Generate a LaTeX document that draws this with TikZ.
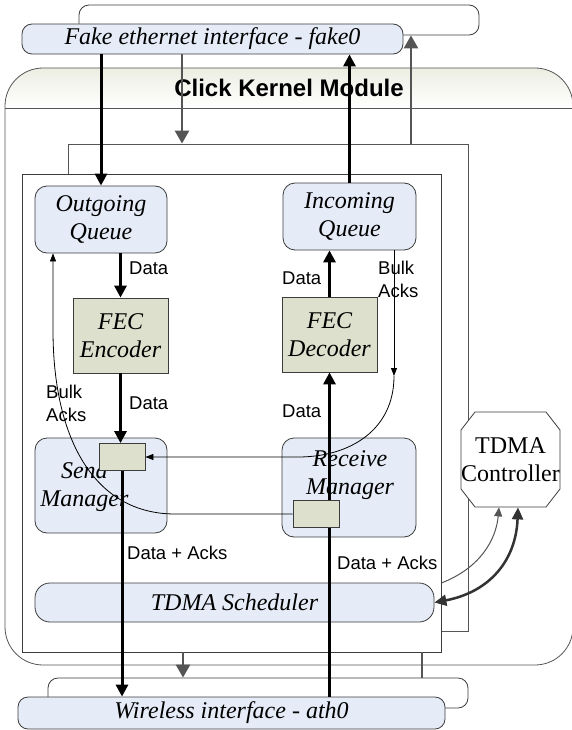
\documentclass[tikz,border=0pt]{standalone}
\usepackage{fontspec}
\setmainfont{Liberation Serif}
\setsansfont{Liberation Sans}
\usetikzlibrary{arrows.meta}

\definecolor{ifblue}{RGB}{229,236,247}
\definecolor{fecgreen}{RGB}{221,224,204}
\definecolor{bandtint}{RGB}{236,238,226}
\definecolor{arrowgray}{RGB}{85,85,85}
\definecolor{edgegray}{RGB}{60,60,60}

\tikzset{
    box/.style={draw=edgegray, line width=0.8pt, inner sep=0pt, align=center,
        font=\fontsize{24}{28}\selectfont\itshape},
    ifbox/.style={box, fill=ifblue, rounded corners=10pt},
    qbox/.style={box, fill=ifblue, rounded corners=12pt},
    fecbox/.style={box, fill=fecgreen},
    slot/.style={box, fill=fecgreen, minimum width=46pt, minimum height=27pt},
    lbl/.style={inner sep=0pt, align=left, font=\sffamily\fontsize{18.5}{23}\selectfont},
    dataarrow/.style={line width=3pt, -{Triangle[length=12pt,width=12pt]}},
    grayarrow/.style={draw=arrowgray, line width=2.5pt, -{Triangle[length=13pt,width=14pt]}},
    ackarrow/.style={line width=0.8pt, -{Triangle[length=8pt,width=6pt]}}
}

\begin{document}
\begin{tikzpicture}[x=1pt,y=-1pt]
    \useasboundingbox (0,0) rectangle (571,730);
    % interfaces
    \node[ifbox, fill=white, minimum width=400pt, minimum height=30pt] (fakeback) at (279,20) {};
    \node[ifbox, minimum width=381pt, minimum height=30pt] (fake) at (212.5,39) {Fake ethernet interface - fake0};
    \node[ifbox, fill=white, minimum width=420pt, minimum height=30pt] (wireback) at (258,693) {};
    \node[ifbox, minimum width=427pt, minimum height=32pt] (wire) at (231.5,713) {Wireless interface - ath0};

    % click kernel module
    \fill[white, rounded corners=38pt] (5,68) rectangle (573,665);
    \begin{scope}
        \clip[rounded corners=38pt] (5,68) rectangle (573,665);
        \shade[top color=bandtint, bottom color=white] (5,68) rectangle (573,108);
    \end{scope}
    \draw[arrowgray, line width=0.8pt, rounded corners=38pt] (5,68) rectangle (573,665);
    \draw[arrowgray, line width=0.8pt] (5,108) -- (573,108);
    \node[font=\sffamily\bfseries\fontsize{24}{28}\selectfont] (title) at (289,88) {Click Kernel Module};

    \node[draw=arrowgray, line width=0.8pt, inner sep=0pt, minimum width=400pt, minimum height=487pt] (frame) at (268,387.5) {};
    \node[draw=edgegray, fill=white, line width=0.8pt, inner sep=0pt, minimum width=419pt, minimum height=478pt] (inner) at (231.5,413) {};

    \node[qbox, minimum width=132pt, minimum height=67pt] (outq) at (101,219.5) {Outgoing\\Queue};
    \node[qbox, minimum width=133pt, minimum height=67pt] (inq) at (349.5,216.5) {Incoming\\Queue};
    \node[fecbox, minimum width=95pt, minimum height=75pt] (enc) at (120.5,335.5) {FEC\\Encoder};
    \node[fecbox, minimum width=95pt, minimum height=75pt] (dec) at (329.5,334.5) {FEC\\Decoder};
    \node[qbox, minimum width=132pt, minimum height=95pt] (sendm) at (101,485.5) {};
    \node[box, draw=none, anchor=west] (sendtxt) at (40,487) {Send\\Manager};
    \node[qbox, minimum width=134pt, minimum height=99pt] (recvm) at (349,487.5) {};
    \node[box, draw=none] (recvtxt) at (350,475) {Receive\\Manager};
    \node[slot] (sbox) at (122,457) {};
    \node[qbox, rounded corners=15pt, minimum width=399pt, minimum height=39pt] (sched) at (234.5,602.5) {TDMA Scheduler};

    % controller
    \draw[edgegray, line width=0.8pt, fill=white] (475,412) -- (546,412) -- (560,430) -- (560,489)
        -- (546,507) -- (475,507) -- (461,489) -- (461,430) -- cycle;
    \node[box, draw=none, font=\fontsize{24}{28}\selectfont, minimum width=99pt, minimum height=95pt] (ctrl) at (510.5,459.5) {TDMA\\Controller};

    % receive path
    \draw[line width=3pt] (wire.north -| dec.south) -- (recvm.north -| dec.south);
    \draw[dataarrow] (recvm.north -| dec.south) -- (dec.south);
    \node[slot] (rbox) at (316,514) {};
    \draw[dataarrow] (dec.north) -- (dec.north |- inq.south);
    \draw[dataarrow] (inq.north) -- (inq.north |- fake.south);

    % send path
    \draw[dataarrow] (fake.south -| outq.north) -- (outq.north);
    \draw[dataarrow] (outq.south -| enc.north) -- (enc.north);
    \draw[dataarrow] (enc.south) -- (enc.south |- sbox.north);
    \draw[dataarrow] (sbox.south) -- (sbox.south |- wire.north);

    % gray links
    \draw[grayarrow] (fake.south -| 182,0) -- (frame.north -| 182,0);
    \draw[grayarrow] (frame.north -| 411,0) -- (fakeback.south -| 411,0);
    \draw[grayarrow] (inner.south -| 183,0) -- (wireback.north -| 183,0);
    \draw[draw=arrowgray, line width=2.5pt] (wireback.north -| 422,0) -- (inner.south -| 422,0);

    % bulk acks
    \coordinate (ackturn) at (394,376);
    \draw[ackarrow] (inq.south -| ackturn) -- (ackturn);
    \draw[ackarrow] (ackturn) .. controls (394,430) and (350,457) .. (298,457) -- (sbox.east);
    \draw[ackarrow] (rbox.west) -- (175,514) .. controls (95,514) and (53,440) .. (53,330) -- (outq.south -| 53,0);

    % scheduler and controller
    \draw[draw=arrowgray, line width=1pt, -{Triangle[length=9pt,width=8pt]}]
        (inner.east |- 0,583) .. controls (480,568) and (496,540) .. (ctrl.south -| 499,0);
    \draw[draw=black!80, line width=2.5pt, {Triangle[length=12pt,width=11pt]}-{Triangle[length=12pt,width=11pt]}]
        (sched.east) .. controls (490,592) and (516,560) .. (ctrl.south -| 518,0);

    % labels
    \node[lbl, anchor=west] (d1) at (129,268) {Data};
    \node[lbl, anchor=west] (d2) at (129,403) {Data};
    \node[lbl, anchor=west] (d3) at (282,278) {Data};
    \node[lbl, anchor=west] (d4) at (282,411) {Data};
    \node[lbl, anchor=west] (da1) at (127,553) {Data + Acks};
    \node[lbl, anchor=west] (da2) at (337,563) {Data + Acks};
    \node[lbl, anchor=north west] (ba1) at (378,261) {Bulk\\Acks};
    \node[lbl, anchor=north west] (ba2) at (46,385) {Bulk\\Acks};
\end{tikzpicture}
\end{document}
